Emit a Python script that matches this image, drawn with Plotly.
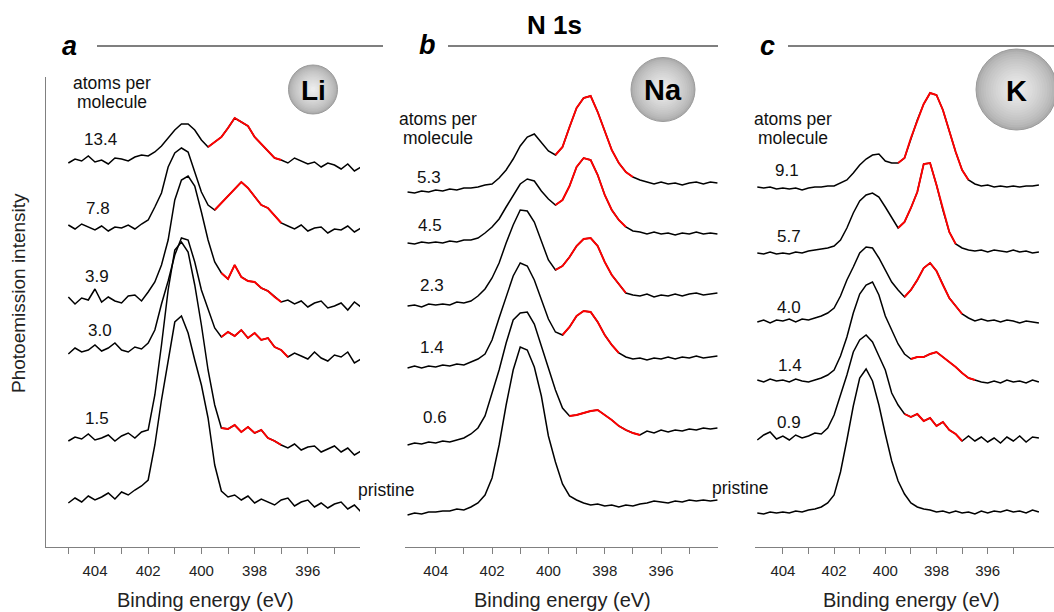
# N 1s photoemission spectra of Li / Na / K doped films, three panels side by side

import plotly.graph_objects as go

W, H = 1054, 612
FONT = "Liberation Sans, Arial, sans-serif"

# ── Data (intensity in arbitrary units, spectra already vertically offset) ──

BINDING_ENERGY = [405.0, 404.75, 404.5, 404.25, 404.0, 403.75, 403.5, 403.25, 403.0,
                  402.75, 402.5, 402.25, 402.0, 401.75, 401.5, 401.25, 401.0, 400.75,
                  400.5, 400.25, 400.0, 399.75, 399.5, 399.25, 399.0, 398.75, 398.5,
                  398.25, 398.0, 397.75, 397.5, 397.25, 397.0, 396.75, 396.5, 396.25,
                  396.0, 395.75, 395.5, 395.25, 395.0, 394.75, 394.5, 394.25, 394.0]

# Li
LI_13_4 = [384, 388, 386, 391, 385, 387, 383, 389, 388, 386, 390, 392, 391, 395, 401,
           409, 417, 423, 423, 417, 407, 400, 405, 410, 419, 429, 425, 421, 410, 403,
           395, 389, 387, 384, 389, 386, 383, 385, 380, 384, 382, 378, 383, 376, 380]
LI_7_8 = [322, 318, 323, 320, 317, 321, 316, 320, 319, 322, 318, 323, 327, 340, 354,
          380, 394, 399, 395, 375, 355, 342, 337, 344, 351, 359, 365, 359, 350, 342,
          339, 331, 324, 321, 318, 322, 316, 319, 320, 314, 318, 317, 321, 315, 319]
LI_3_9 = [250, 243, 249, 247, 258, 245, 250, 246, 244, 251, 252, 246, 255, 265, 282,
          307, 347, 367, 371, 361, 335, 307, 285, 274, 268, 282, 270, 266, 265, 259,
          256, 250, 245, 247, 243, 246, 240, 244, 246, 239, 241, 244, 237, 245, 240]
LI_3_0 = [193, 199, 195, 197, 202, 196, 199, 204, 197, 195, 200, 198, 204, 217, 243,
          266, 292, 309, 307, 285, 257, 237, 219, 210, 215, 211, 217, 209, 214, 207,
          209, 200, 197, 190, 194, 191, 188, 195, 189, 186, 192, 190, 195, 184, 188]
LI_1_5 = [106, 110, 108, 113, 107, 109, 112, 106, 111, 114, 109, 115, 117, 152, 202,
          257, 297, 305, 295, 262, 222, 177, 142, 119, 118, 122, 115, 120, 114, 117,
          109, 106, 102, 99, 103, 97, 100, 101, 95, 98, 101, 95, 99, 92, 96]
LI_PRISTINE = [44, 49, 45, 51, 47, 50, 54, 48, 55, 52, 57, 61, 67, 102, 147,
               187, 225, 231, 214, 187, 162, 129, 82, 56, 50, 52, 47, 51, 44, 48,
               45, 42, 47, 49, 41, 45, 47, 40, 44, 39, 43, 45, 38, 42, 35]
LI_LABELS = ["13.4", "7.8", "3.9", "3.0", "1.5", "pristine"]
LI_RED = [(399.75, 397.0), (399.5, 397.0), (399.25, 397.0), (399.25, 396.75),
          (399.25, 397.0), None]

# Na
NA_5_3 = [355, 354, 356, 355, 357, 356, 358, 357, 359, 359, 360, 362, 363, 369, 377,
          388, 401, 410, 413, 405, 396, 392, 400, 420, 439, 449, 451, 435, 415, 397,
          384, 375, 370, 367, 365, 363, 365, 363, 364, 362, 364, 365, 363, 365, 364]
NA_4_5 = [304, 303, 305, 304, 305, 304, 306, 305, 307, 307, 309, 314, 320, 328, 340,
          352, 363, 368, 366, 356, 348, 342, 347, 361, 380, 389, 387, 372, 352, 337,
          327, 320, 316, 315, 313, 315, 313, 314, 312, 314, 313, 315, 313, 314, 313]
NA_2_3 = [241, 242, 240, 243, 242, 243, 242, 245, 244, 246, 251, 258, 269, 284, 304,
          322, 337, 336, 325, 307, 287, 277, 281, 290, 301, 308, 309, 301, 285, 272,
          263, 254, 252, 251, 253, 250, 252, 251, 253, 251, 253, 254, 252, 253, 254]
NA_1_4 = [179, 181, 179, 181, 180, 182, 181, 183, 182, 185, 188, 193, 207, 229, 251,
          271, 284, 281, 267, 248, 228, 215, 212, 220, 231, 236, 235, 225, 212, 202,
          194, 190, 188, 189, 187, 189, 188, 190, 188, 190, 189, 191, 189, 190, 191]
NA_0_6 = [102, 104, 103, 105, 104, 106, 105, 107, 109, 113, 119, 131, 153, 177, 204,
          227, 234, 235, 223, 202, 179, 157, 139, 131, 132, 134, 136, 137, 132, 127,
          121, 117, 114, 112, 116, 114, 117, 115, 117, 116, 118, 117, 119, 118, 119]
NA_PRISTINE = [32, 34, 33, 35, 35, 36, 36, 38, 37, 40, 44, 52, 69, 102, 142,
               177, 200, 197, 180, 151, 111, 85, 63, 51, 47, 44, 42, 43, 41, 42,
               40, 42, 41, 43, 44, 46, 45, 44, 46, 45, 47, 46, 47, 46, 47]
NA_LABELS = ["5.3", "4.5", "2.3", "1.4", "0.6", "pristine"]
NA_RED = [(399.75, 397.0), (399.75, 397.25), (399.75, 397.25), (399.5, 397.5),
          (399.25, 396.75), None]

# K
K_9_1 = [360, 359, 360, 358, 359, 358, 359, 357, 359, 360, 360, 361, 361, 364, 367,
         374, 382, 388, 392, 393, 386, 384, 384, 389, 409, 427, 443, 454, 452, 437,
         416, 395, 377, 367, 363, 361, 362, 360, 361, 360, 361, 360, 361, 361, 362]
K_5_7 = [294, 293, 295, 293, 294, 293, 295, 294, 296, 297, 298, 299, 301, 307, 319,
         334, 346, 352, 354, 350, 340, 330, 319, 325, 339, 355, 383, 384, 362, 337,
         315, 303, 299, 297, 296, 297, 295, 297, 296, 295, 297, 295, 296, 294, 295]
K_4_0 = [225, 227, 224, 227, 226, 228, 225, 228, 227, 229, 231, 234, 239, 251, 267,
         280, 294, 300, 299, 289, 277, 265, 257, 250, 257, 267, 279, 284, 276, 262,
         249, 241, 233, 229, 226, 228, 226, 227, 225, 227, 226, 224, 226, 225, 224]
K_1_4 = [167, 165, 168, 166, 167, 165, 168, 166, 165, 167, 169, 172, 177, 191, 210,
         234, 253, 262, 265, 252, 231, 217, 203, 193, 188, 190, 190, 193, 195, 190,
         185, 180, 174, 169, 167, 165, 164, 166, 164, 167, 165, 166, 164, 167, 165]
K_0_9 = [107, 112, 115, 108, 111, 107, 112, 109, 111, 114, 113, 119, 132, 152, 172,
         195, 207, 212, 205, 191, 177, 154, 142, 133, 130, 133, 126, 129, 121, 125,
         117, 113, 106, 111, 106, 110, 105, 109, 104, 110, 106, 111, 105, 110, 109]
K_PRISTINE = [34, 33, 35, 34, 35, 34, 36, 35, 37, 38, 40, 44, 52, 75, 107,
              141, 169, 178, 166, 142, 113, 86, 66, 53, 44, 40, 38, 37, 35, 36,
              34, 36, 34, 35, 33, 36, 34, 36, 35, 37, 35, 36, 34, 37, 35]
K_LABELS = ["9.1", "5.7", "4.0", "1.4", "0.9", ""]
K_RED = [(399.5, 396.75), (399.5, 397.25), (399.25, 397.0), (399.0, 396.5),
         (399.25, 397.0), None]

TICKS_A = [405, 404, 403, 402, 401, 400, 399, 398, 397, 396, 395]
TICKTEXT_A = ["", "404", "", "402", "", "400", "", "398", "", "396", ""]
TICKS_BC = [404, 403, 402, 401, 400, 399, 398, 397, 396, 395]
TICKTEXT_BC = ["404", "", "402", "", "400", "", "398", "", "396", ""]


# ── Helpers (pixel -> paper) ──────────────────────────────────────────────────

def fx(px):
    return px / W


def fy(py):
    return 1 - py / H


def text(s, x, y, size, color="#111", **kw):
    return dict(text=s, x=fx(x), y=fy(y), xref="paper", yref="paper", showarrow=False,
                xanchor="center", yanchor="middle", font=dict(family=FONT, size=size, color=color), **kw)


def ball(cx, cy, r, n=16):
    """Gray sphere built from concentric circles (fake radial gradient)."""
    edge, centre = (172, 172, 172), (236, 236, 236)
    out = []
    for i in range(n):
        t = i / (n - 1)
        rr = r * (1 - 0.9 * t)
        c = tuple(int(edge[k] + (centre[k] - edge[k]) * t ** 0.7) for k in range(3))
        out.append(dict(type="circle", xref="paper", yref="paper",
                        xsizemode="pixel", ysizemode="pixel",
                        xanchor=fx(cx), yanchor=fy(cy),
                        x0=-rr, x1=rr, y0=-rr, y1=rr,
                        fillcolor="rgb(%d,%d,%d)" % c,
                        line=dict(width=1 if i == 0 else 0, color="#9a9a9a"),
                        layer="above"))
    return out


# ── Figure ────────────────────────────────────────────────────────────────────

panels = [
    dict(ax="", spectra=[LI_13_4, LI_7_8, LI_3_9, LI_3_0, LI_1_5, LI_PRISTINE], red=LI_RED),
    dict(ax="2", spectra=[NA_5_3, NA_4_5, NA_2_3, NA_1_4, NA_0_6, NA_PRISTINE], red=NA_RED),
    dict(ax="3", spectra=[K_9_1, K_5_7, K_4_0, K_1_4, K_0_9, K_PRISTINE], red=K_RED),
]

fig = go.Figure()
for p in panels:
    for spec, red in zip(p["spectra"], p["red"]):
        fig.add_trace(go.Scatter(x=BINDING_ENERGY, y=spec, mode="lines",
                                 line=dict(color="black", width=1.5),
                                 xaxis="x" + p["ax"], yaxis="y" + p["ax"],
                                 showlegend=False, hoverinfo="skip"))
        if red:
            hi, lo = red
            pts = [(e, v) for e, v in zip(BINDING_ENERGY, spec) if lo <= e <= hi]
            fig.add_trace(go.Scatter(x=[e for e, _ in pts], y=[v for _, v in pts], mode="lines",
                                     line=dict(color="#ff0000", width=1.9),
                                     xaxis="x" + p["ax"], yaxis="y" + p["ax"],
                                     showlegend=False, hoverinfo="skip"))

y_dom = [fy(547), fy(77)]
x_common = dict(showgrid=False, zeroline=False, showline=True, linecolor="#808080", linewidth=1,
                ticks="outside", ticklen=6, tickcolor="#808080", tickwidth=1,
                tickfont=dict(family=FONT, size=15, color="#222"), ticklabelstandoff=4)
y_common = dict(domain=y_dom, range=[0, 470], showgrid=False, zeroline=False,
                showticklabels=False, ticks="")

fig.update_layout(
    width=W, height=H,
    margin=dict(l=0, r=0, t=0, b=0),
    paper_bgcolor="white", plot_bgcolor="white",
    xaxis=dict(domain=[fx(46), fx(360)], range=[405.84, 394.04], anchor="y",
               tickvals=TICKS_A, ticktext=TICKTEXT_A, **x_common),
    xaxis2=dict(domain=[fx(405), fx(718)], range=[405.09, 393.98], anchor="y2",
                tickvals=TICKS_BC, ticktext=TICKTEXT_BC, **x_common),
    xaxis3=dict(domain=[fx(755), 1.0], range=[405.09, 393.41], anchor="y3",
                tickvals=TICKS_BC, ticktext=TICKTEXT_BC, **x_common),
    yaxis=dict(anchor="x", showline=True, linecolor="#808080", linewidth=1, **y_common),
    yaxis2=dict(anchor="x2", visible=False, **y_common),
    yaxis3=dict(anchor="x3", visible=False, **y_common),
)

# header lines and element spheres
shapes = []
for x0, x1 in [(97, 383), (448, 718), (788, 1054)]:
    shapes.append(dict(type="line", xref="paper", yref="paper", x0=fx(x0), x1=fx(x1),
                       y0=fy(46), y1=fy(46), line=dict(color="#555", width=1.4)))
shapes += ball(313, 89.5, 24.5) + ball(663, 89.5, 32) + ball(1016.5, 89.5, 40.5)

annotations = [
    text("<b>N 1s</b>", 554, 25, 26, color="black"),
    text("<b><i>a</i></b>", 69, 46, 27, color="black"),
    text("<b><i>b</i></b>", 427, 45, 27, color="black"),
    text("<b><i>c</i></b>", 767, 46, 27, color="black"),
    text("<b>Li</b>", 313, 90, 28, color="black"),
    text("<b>Na</b>", 663, 90, 29, color="black"),
    text("<b>K</b>", 1016.5, 91, 29, color="black"),
    text("Photoemission intensity", 18, 293, 19, color="#222", textangle=-90),
]
for cx in (205, 562, 911):
    annotations.append(text("Binding energy (eV)", cx, 600, 20, color="#222"))
for cx, cy in [(112, 83), (438, 119), (793, 119)]:
    annotations.append(text("atoms per", cx, cy, 17.5))
    annotations.append(text("molecule", cx, cy + 19.5, 17.5))

label_pos = {
    "a": [(100, 140), (98, 208), (97, 277), (100, 330), (97, 418), (386, 490)],
    "b": [(429, 177), (430, 225), (432, 285), (432, 347), (435, 417), (740, 488)],
    "c": [(787, 170), (789, 237), (789, 307), (790, 365), (789, 422), (0, 0)],
}
for key, labels in zip("abc", [LI_LABELS, NA_LABELS, K_LABELS]):
    for lab, (x, y) in zip(labels, label_pos[key]):
        if lab:
            annotations.append(text(lab, x, y, 17.5 if lab == "pristine" else 17))

fig.update_layout(shapes=shapes, annotations=annotations)

# the page body has a default 8px margin; drop it so the figure sits at (0, 0)
fig.write_html("out.html", config={"displayModeBar": False},
               post_script="document.body.style.margin='0';")
